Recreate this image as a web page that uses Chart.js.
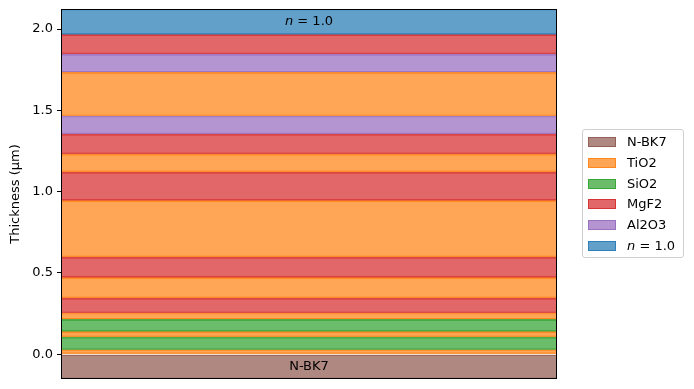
<!DOCTYPE html>
<html>
<head>
<meta charset="utf-8">
<script src="https://cdn.jsdelivr.net/npm/chart.js@4/dist/chart.umd.min.js"></script>
<style>
  body { margin: 0; background: #fff; }
  #wrap { position: relative; width: 694px; height: 389px; }
  #legend { position: absolute; left: 582px; top: 129px; width: 102px; height: 129px;
    border: 1px solid #d0d0d0; border-radius: 3px; background: rgba(255,255,255,0.8);
    font-family: "DejaVu Sans", sans-serif; font-size: 13px; color: #000; box-sizing: border-box; }
  .row { position: absolute; left: 0; height: 20px; }
  .patch { position: absolute; left: 5px; top: 0; width: 28px; height: 10px; box-sizing: border-box; }
  .lab { position: absolute; left: 44px; top: -3px; white-space: nowrap; }
</style>
</head>
<body>
<div id="wrap">
  <canvas id="canvas_stack" width="694" height="389"></canvas>
  <div id="legend"></div>
</div>
<script>
// materials and their colours (legend order)
var materials = ['N-BK7', 'TiO2', 'SiO2', 'MgF2', 'Al2O3', 'n = 1.0'];
var matColors = ['#8c564b', '#ff7f0e', '#2ca02c', '#d62728', '#9467bd', '#1f77b4'];

// stack from substrate to ambient, layer edges in µm
var layerMaterial = ['N-BK7', 'TiO2', 'SiO2', 'TiO2', 'SiO2', 'TiO2', 'MgF2', 'TiO2', 'MgF2', 'TiO2',
                     'MgF2', 'TiO2', 'MgF2', 'Al2O3', 'TiO2', 'Al2O3', 'MgF2', 'n = 1.0'];
var layerBottom = [-0.152, 0.000, 0.028, 0.105, 0.139, 0.215, 0.254, 0.345, 0.471, 0.597,
                   0.945, 1.120, 1.231, 1.354, 1.465, 1.733, 1.846, 1.965];
var layerTop    = [0.000, 0.028, 0.105, 0.139, 0.215, 0.254, 0.345, 0.471, 0.597, 0.945,
                   1.120, 1.231, 1.354, 1.465, 1.733, 1.846, 1.965, 2.123];
var yTicks = [0.0, 0.5, 1.0, 1.5, 2.0];

function rgba(hex, a) {
  var r = parseInt(hex.substr(1, 2), 16), g = parseInt(hex.substr(3, 2), 16), b = parseInt(hex.substr(5, 2), 16);
  return 'rgba(' + r + ',' + g + ',' + b + ',' + a + ')';
}

var datasets = [];
for (var i in layerMaterial) {
  var c = matColors[materials.indexOf(layerMaterial[i])];
  datasets.push({
    label: layerMaterial[i],
    data: [[layerBottom[i], layerTop[i]]],
    backgroundColor: rgba(c, 0.7),
    borderColor: rgba(c, 0.8),
    borderWidth: {top: 1, bottom: 1, left: 0, right: 0},
    borderSkipped: false,
    grouped: false,
    barPercentage: 1.0,
    categoryPercentage: 1.0
  });
}

// frame + labels for substrate and ambient
var framePlugin = {
  id: 'frame',
  afterDraw: function(chart) {
    var ctx = chart.ctx, a = chart.chartArea, y = chart.scales.y;
    var cx = (a.left + a.right) / 2;
    ctx.save();
    ctx.strokeStyle = '#000';
    ctx.lineWidth = 1;
    ctx.strokeRect(a.left + 0.5, a.top + 0.5, a.right - a.left - 1, a.bottom - a.top - 1);
    ctx.fillStyle = '#000';
    ctx.textBaseline = 'middle';
    ctx.textAlign = 'center';
    ctx.font = '13px "DejaVu Sans"';
    var last = layerMaterial.length - 1;
    ctx.fillText(layerMaterial[0], cx, y.getPixelForValue((layerBottom[0] + layerTop[0]) / 2));
    // ambient: italic n
    var ty = y.getPixelForValue((layerBottom[last] + layerTop[last]) / 2);
    ctx.font = 'italic 13px "DejaVu Sans"';
    var w1 = ctx.measureText('n').width;
    ctx.font = '13px "DejaVu Sans"';
    var w2 = ctx.measureText(' = 1.0').width;
    ctx.textAlign = 'left';
    var x0 = cx - (w1 + w2) / 2;
    ctx.font = 'italic 13px "DejaVu Sans"';
    ctx.fillText('n', x0, ty);
    ctx.font = '13px "DejaVu Sans"';
    ctx.fillText(' = 1.0', x0 + w1, ty);
    ctx.restore();
  }
};

var config = {
  type: 'bar',
  data: { labels: ['stack'], datasets: datasets },
  options: {
    responsive: false,
    animation: false,
    layout: { padding: { left: 8, right: 137, top: 9, bottom: 10 } },
    plugins: { legend: { display: false }, tooltip: { enabled: false } },
    scales: {
      x: { display: false, stacked: false },
      y: {
        min: layerBottom[0],
        max: layerTop[layerTop.length - 1],
        afterFit: function(s) { s.width = 53; s.paddingTop = 0; s.paddingBottom = 0; },
        afterBuildTicks: function(s) { s.ticks = yTicks.map(function(v) { return {value: v}; }); },
        ticks: {
          color: '#000',
          font: { family: 'DejaVu Sans', size: 13 },
          padding: 4,
          callback: function(v) { return Number(v).toFixed(1); }
        },
        grid: { drawOnChartArea: false, color: '#000', tickLength: 4, tickWidth: 1 },
        border: { display: false },
        title: {
          display: true, text: 'Thickness (μm)', color: '#000',
          font: { family: 'DejaVu Sans', size: 13 }, padding: { top: 0, bottom: 4 }
        }
      }
    }
  },
  plugins: [framePlugin]
};

new Chart(document.getElementById('canvas_stack').getContext('2d'), config);

// legend with italic n
var legendHtml = '';
for (var m in materials) {
  var txt = materials[m] == 'n = 1.0' ? '<i>n</i> = 1.0' : materials[m];
  legendHtml += '<div class="row" style="top:' + (7 + m * 20.8) + 'px">' +
    '<div class="patch" style="background:' + rgba(matColors[m], 0.7) + ';border:1px solid ' + rgba(matColors[m], 0.8) + '"></div>' +
    '<div class="lab">' + txt + '</div></div>';
}
document.getElementById('legend').innerHTML = legendHtml;
</script>
</body>
</html>
